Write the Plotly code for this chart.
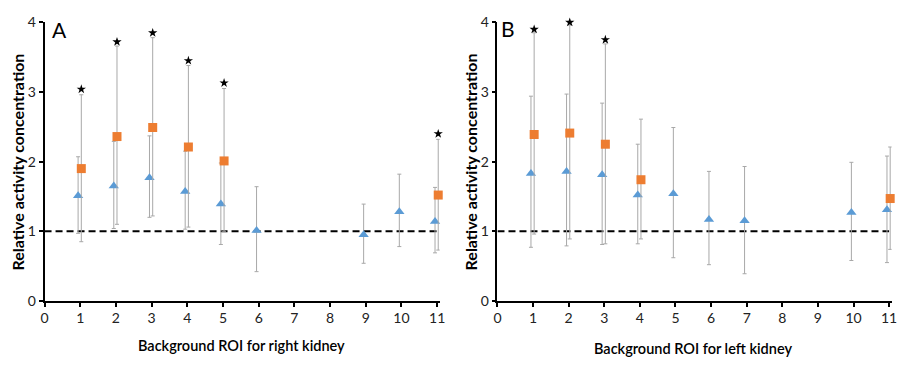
import plotly.graph_objects as go

# ---------------- data ----------------
# Panel A (right kidney)
roi_A_blue = [1, 2, 3, 4, 5, 6, 9, 10, 11]
A_blue = [1.51, 1.65, 1.77, 1.57, 1.39, 1.01, 0.95, 1.28, 1.14]
A_blue_hi = [2.07, 2.29, 2.37, 2.15, 1.98, 1.64, 1.39, 1.82, 1.63]
A_blue_lo = [0.97, 1.04, 1.20, 1.03, 0.81, 0.42, 0.54, 0.78, 0.69]

roi_A_orange = [1, 2, 3, 4, 5, 11]
A_orange = [1.90, 2.36, 2.49, 2.21, 2.01, 1.52]
A_orange_hi = [2.96, 3.66, 3.78, 3.38, 3.05, 2.32]
A_orange_lo = [0.85, 1.10, 1.22, 1.06, 1.00, 0.73]

roi_A_star = [1, 2, 3, 4, 5, 11]
A_star = [3.04, 3.72, 3.85, 3.45, 3.13, 2.40]

# Panel B (left kidney)
roi_B_blue = [1, 2, 3, 4, 5, 6, 7, 10, 11]
B_blue = [1.83, 1.86, 1.81, 1.52, 1.54, 1.17, 1.15, 1.27, 1.31]
B_blue_hi = [2.94, 2.97, 2.84, 2.25, 2.49, 1.86, 1.93, 1.99, 2.08]
B_blue_lo = [0.77, 0.79, 0.81, 0.82, 0.62, 0.52, 0.39, 0.58, 0.55]

roi_B_orange = [1, 2, 3, 4, 11]
B_orange = [2.39, 2.41, 2.25, 1.74, 1.47]
B_orange_hi = [3.85, 3.96, 3.69, 2.61, 2.21]
B_orange_lo = [0.96, 0.89, 0.82, 0.89, 0.74]

roi_B_star = [1, 2, 3]
B_star = [3.90, 4.00, 3.75]

reference_level = 1.0
x_ticks = list(range(0, 12))
y_ticks = [0, 1, 2, 3, 4]

# ---------------- style ----------------
BLUE = "#5b9bd5"
ORANGE = "#ed7d31"
ERR = "#a8a8a8"
FONT = "Lato"
BLUE_OFF = -0.06
ORANGE_OFF = 0.03
X_MAX = 11.07

fig = go.Figure()


def add_panel(xa, ya, roi_b, vb, hb, lb, roi_o, vo, ho, lo, roi_s, vs):
    xb = [r + BLUE_OFF for r in roi_b]
    xo = [r + ORANGE_OFF for r in roi_o]
    fig.add_trace(go.Scatter(
        x=[0, 11], y=[reference_level] * 2, mode="lines",
        line=dict(color="black", width=2, dash="7px,4px"),
        xaxis=xa, yaxis=ya, showlegend=False, hoverinfo="skip"))
    fig.add_trace(go.Scatter(
        x=xb, y=vb, mode="markers",
        marker=dict(symbol="triangle-up", size=9, color=BLUE),
        error_y=dict(type="data", symmetric=False,
                     array=[h - v for h, v in zip(hb, vb)],
                     arrayminus=[v - l for l, v in zip(lb, vb)],
                     color=ERR, thickness=1, width=2),
        xaxis=xa, yaxis=ya, showlegend=False, cliponaxis=False))
    fig.add_trace(go.Scatter(
        x=xo, y=vo, mode="markers",
        marker=dict(symbol="square", size=9, color=ORANGE),
        error_y=dict(type="data", symmetric=False,
                     array=[h - v for h, v in zip(ho, vo)],
                     arrayminus=[v - l for l, v in zip(lo, vo)],
                     color=ERR, thickness=1, width=2),
        xaxis=xa, yaxis=ya, showlegend=False, cliponaxis=False))
    fig.add_trace(go.Scatter(
        x=[r + ORANGE_OFF for r in roi_s], y=vs, mode="markers",
        marker=dict(symbol="star", size=7, color="black"),
        xaxis=xa, yaxis=ya, showlegend=False, cliponaxis=False))


add_panel("x", "y", roi_A_blue, A_blue, A_blue_hi, A_blue_lo,
          roi_A_orange, A_orange, A_orange_hi, A_orange_lo, roi_A_star, A_star)
add_panel("x2", "y2", roi_B_blue, B_blue, B_blue_hi, B_blue_lo,
          roi_B_orange, B_orange, B_orange_hi, B_orange_lo, roi_B_star, B_star)

W, H = 905, 369
ydom = [63 / H, 355 / H]
unitA = (438 - 41) / 11
unitB = (895 - 499) / 11
xdomA = [41 / W, (41 + unitA * X_MAX) / W]
xdomB = [499 / W, (499 + unitB * X_MAX) / W]

axis_common = dict(showgrid=False, zeroline=False, showline=True,
                   linecolor="black", linewidth=1.5, ticks="outside",
                   ticklen=4, tickwidth=1.5, tickcolor="black",
                   tickfont=dict(family=FONT, size=14, color="#222"))

fig.update_layout(
    width=W, height=H, margin=dict(l=0, r=0, t=0, b=0),
    paper_bgcolor="white", plot_bgcolor="white",
    xaxis=dict(domain=xdomA, range=[0, X_MAX], tickvals=x_ticks, anchor="y", **axis_common),
    yaxis=dict(domain=ydom, range=[0, 4], tickvals=y_ticks, anchor="x", **axis_common),
    xaxis2=dict(domain=xdomB, range=[0, X_MAX], tickvals=x_ticks, anchor="y2", **axis_common),
    yaxis2=dict(domain=ydom, range=[0, 4], tickvals=y_ticks, anchor="x2", **axis_common),
)

annots = [
    dict(text="Relative activity concentration", x=14 / W, y=(H - 160) / H, textangle=-90,
         font=dict(family=FONT, size=16, color="black", weight="bold")),
    dict(text="Relative activity concentration", x=472 / W, y=(H - 160) / H, textangle=-90,
         font=dict(family=FONT, size=16, color="black", weight="bold")),
    dict(text="Background ROI for right kidney", x=240 / W, y=(H - 353) / H,
         font=dict(family=FONT, size=14.5, color="black", weight=600)),
    dict(text="Background ROI for left kidney", x=697 / W, y=(H - 356) / H,
         font=dict(family=FONT, size=14.5, color="black", weight=600)),
    dict(text="A", x=56 / W, y=(H - 21) / H,
         font=dict(family=FONT, size=21, color="black")),
    dict(text="B", x=510 / W, y=(H - 20) / H,
         font=dict(family=FONT, size=21, color="black")),
]
for a in annots:
    fig.add_annotation(xref="paper", yref="paper", showarrow=False,
                       xanchor="center", yanchor="middle", **a)

fig.write_html("out.html")
